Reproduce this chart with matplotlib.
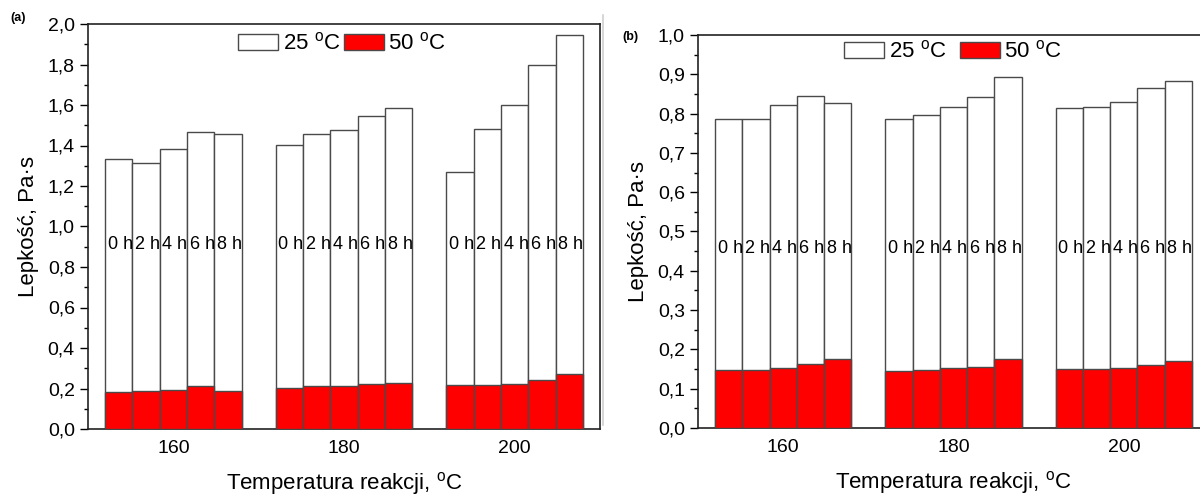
import numpy as np
import matplotlib
matplotlib.use("Agg")
import matplotlib.pyplot as plt
from matplotlib.patches import Patch
from matplotlib.lines import Line2D
from matplotlib.ticker import MultipleLocator, FuncFormatter

plt.rcParams['font.family'] = ['Liberation Sans', 'DejaVu Sans']
plt.rcParams['mathtext.fontset'] = 'custom'
plt.rcParams['mathtext.rm'] = 'Liberation Sans'

# data
temps = [160, 180, 200]
hours = ['0 h', '2 h', '4 h', '6 h', '8 h']

# panel (a)
a_25 = [[1.335, 1.312, 1.384, 1.465, 1.458],
        [1.404, 1.458, 1.477, 1.547, 1.584],
        [1.271, 1.480, 1.600, 1.798, 1.947]]
a_50 = [[0.184, 0.188, 0.191, 0.211, 0.188],
        [0.201, 0.211, 0.214, 0.221, 0.226],
        [0.217, 0.217, 0.221, 0.242, 0.272]]

# panel (b)
b_25 = [[0.787, 0.787, 0.823, 0.846, 0.828],
        [0.787, 0.797, 0.816, 0.841, 0.894],
        [0.815, 0.818, 0.830, 0.866, 0.884]]
b_50 = [[0.148, 0.147, 0.153, 0.162, 0.175],
        [0.144, 0.147, 0.152, 0.155, 0.175],
        [0.151, 0.151, 0.153, 0.160, 0.170]]

bar_w = 3.2
edge = '#4a4a4a'
comma = FuncFormatter(lambda v, p: ('%.1f' % v).replace('.', ','))


def draw_panel(ax, v25, v50, ymax, minor, label_y, leg_x, leg_y, colsp):
    offs = (np.arange(len(hours)) - 2) * bar_w
    for i, t in enumerate(temps):
        xs = t + offs
        ax.bar(xs, v25[i], width=bar_w, color='white', edgecolor=edge, linewidth=1.0, zorder=2)
        ax.bar(xs, v50[i], width=bar_w, color='#ff0000', edgecolor=edge, linewidth=1.0, zorder=3)
        for x, h in zip(xs, hours):
            ax.text(x - bar_w / 2 + 0.3, label_y, h, ha='left', va='center', fontsize=13, zorder=4)
    ax.set_xlim(150, 210)
    ax.set_ylim(0, ymax)
    ax.set_xticks(temps)
    ax.tick_params(axis='x', length=0, labelsize=14, pad=8)
    ax.yaxis.set_major_locator(MultipleLocator(minor * 2))
    ax.yaxis.set_minor_locator(MultipleLocator(minor))
    ax.yaxis.set_major_formatter(comma)
    ax.tick_params(axis='y', which='major', direction='out', length=6, width=1, labelsize=14)
    ax.tick_params(axis='y', which='minor', direction='out', length=3, width=1)
    for s in ax.spines.values():
        s.set_linewidth(1.2)
        s.set_color('#222222')
    ax.set_ylabel('Lepkość, Pa·s', fontsize=16, labelpad=6)
    ax.set_xlabel(r'Temperatura reakcji, $^{\rm o}$C', fontsize=16, labelpad=9)
    handles = [Patch(facecolor='white', edgecolor=edge, linewidth=1.0),
               Patch(facecolor='#ff0000', edgecolor=edge, linewidth=1.0)]
    ax.legend(handles, [r'25 $^{\rm o}$C', r'50 $^{\rm o}$C'], ncol=2, frameon=False,
              loc='center', bbox_to_anchor=(leg_x, leg_y), fontsize=16,
              handlelength=1.8, handleheight=0.75, handletextpad=0.2, columnspacing=colsp)


fig = plt.figure(figsize=(12, 4.97), dpi=100)
ax1 = fig.add_axes([88 / 1200, 1 - 429 / 497, 512 / 1200, 405 / 497])
ax2 = fig.add_axes([698 / 1200, 1 - 428 / 497, 511 / 1200, 393 / 497])

draw_panel(ax1, a_25, a_50, 2.0, 0.1, 0.91, 0.496, 0.951, 0.15)
draw_panel(ax2, b_25, b_50, 1.0, 0.05, 0.458, 0.499, 0.957, 0.6)

fig.text(10 / 1200, 1 - 18 / 497, '(a)', fontsize=9, fontweight='bold', va='center')
fig.text(622 / 1200, 1 - 37 / 497, '(b)', fontsize=9, fontweight='bold', va='center')

# thin grey border of the right-hand picture
fig.add_artist(Line2D([603 / 1200, 603 / 1200], [1 - 425 / 497, 1 - 15 / 497],
                      color='#d0d0d0', linewidth=1.2))

fig.savefig('out.png', dpi=100)
